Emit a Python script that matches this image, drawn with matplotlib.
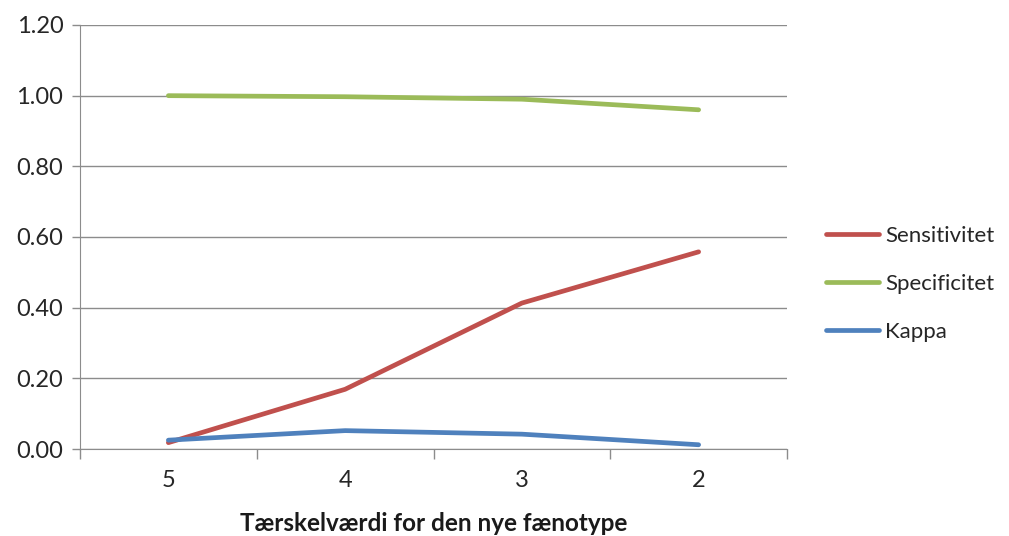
import matplotlib
matplotlib.use("Agg")
import matplotlib.pyplot as plt
from matplotlib.ticker import FixedLocator, MultipleLocator

# Thresholds for the new phenotype and the resulting measures
categories = ["5", "4", "3", "2"]
sensitivitet = [0.018, 0.169, 0.413, 0.558]
specificitet = [1.000, 0.997, 0.990, 0.960]
kappa = [0.025, 0.052, 0.042, 0.012]

plt.rcParams["font.family"] = ["Lato", "DejaVu Sans"]

fig = plt.figure(figsize=(10.09, 5.36), dpi=100)
ax = fig.add_axes([80 / 1009, 1 - 449 / 536, (787 - 80) / 1009, (449 - 25) / 536])

x = list(range(len(categories)))
ax.plot(x, sensitivitet, color="#C0504D", lw=3.4, solid_capstyle="round", label="Sensitivitet", zorder=3)
ax.plot(x, specificitet, color="#9BBB59", lw=3.4, solid_capstyle="round", label="Specificitet", zorder=3)
ax.plot(x, kappa, color="#4F81BD", lw=3.4, solid_capstyle="round", label="Kappa", zorder=3)

grid_c = "#8C8C8C"
ax.set_xlim(-0.5, len(categories) - 0.5)
ax.set_ylim(0, 1.2)
ax.yaxis.set_major_locator(MultipleLocator(0.2))
ax.yaxis.set_major_formatter(plt.FuncFormatter(lambda v, p: f"{v:.2f}"))
ax.grid(axis="y", color=grid_c, lw=1)
ax.set_axisbelow(True)

ax.set_xticks(x)
ax.set_xticklabels(categories)
ax.xaxis.set_minor_locator(FixedLocator([i - 0.5 for i in range(len(categories) + 1)]))
ax.tick_params(axis="x", which="major", length=0, pad=15, labelsize=17, colors="#262626")
ax.tick_params(axis="x", which="minor", length=7, width=1, color=grid_c)
ax.tick_params(axis="y", length=6, width=1, color=grid_c, pad=6, labelsize=17, labelcolor="#262626")

for s in ["top", "right"]:
    ax.spines[s].set_visible(False)
ax.spines["left"].set_color(grid_c)
ax.spines["bottom"].set_color(grid_c)

ax.set_xlabel("Tærskelværdi for den nye fænotype", fontsize=17.5, fontweight="bold",
              color="#1a1a1a", labelpad=15)

leg = fig.legend(loc="center left", bbox_to_anchor=(826 / 1009, 1 - 284 / 536),
                 frameon=False, fontsize=16, handlelength=2.4, handletextpad=0.25,
                 labelspacing=1.25, borderpad=0, borderaxespad=0)
for t in leg.get_texts():
    t.set_color("#262626")

fig.savefig("out.png", dpi=100)
